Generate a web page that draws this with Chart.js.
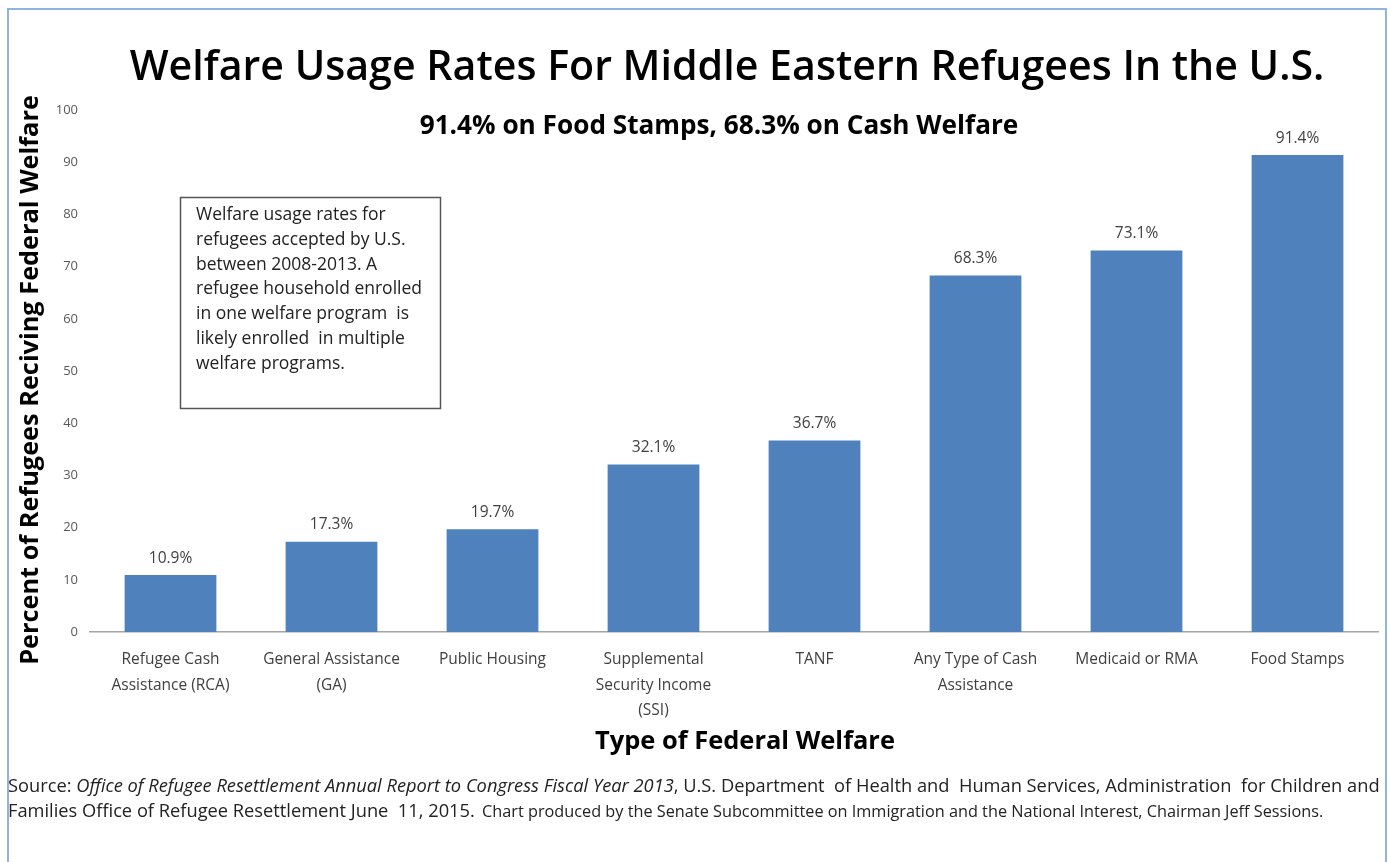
<!DOCTYPE html>
<html>
<head>
<meta charset="utf-8">
<script src="https://cdn.jsdelivr.net/npm/chart.js@4"></script>
<style>
  html, body { margin: 0; padding: 0; background: #fff; }
  #wrap { width: 1391px; height: 862px; position: relative; }
</style>
</head>
<body>
<div id="wrap"><canvas id="welfareChart" width="1391" height="862"></canvas></div>
<script>
// Data
const categories = [
  ["Refugee Cash", "Assistance (RCA)"],
  ["General Assistance", "(GA)"],
  ["Public Housing"],
  ["Supplemental", "Security Income", "(SSI)"],
  ["TANF"],
  ["Any Type of Cash", "Assistance"],
  ["Medicaid or RMA"],
  ["Food Stamps"],
];
const usageRates = [10.9, 17.3, 19.7, 32.1, 36.7, 68.3, 73.1, 91.4];
const yTicks = [0, 10, 20, 30, 40, 50, 60, 70, 80, 90, 100];

const titleText = "Welfare Usage Rates For Middle Eastern Refugees In the U.S.";
const subtitleText = "91.4% on Food Stamps, 68.3% on Cash Welfare";
const yTitleText = "Percent of Refugees Reciving Federal Welfare";
const xTitleText = "Type of Federal Welfare";
const noteLines = [
  "Welfare usage rates for",
  "refugees accepted by U.S.",
  "between 2008-2013. A",
  "refugee household enrolled",
  "in one welfare program  is",
  "likely enrolled  in multiple",
  "welfare programs.",
];
const sourceLine1 = [
  ["normal", "Source: "],
  ["italic", "Office of Refugee Resettlement Annual Report to Congress Fiscal Year 2013"],
  ["normal", ", U.S. Department  of Health and  Human Services, Administration  for Children and"],
];
const sourceLine2a = "Families Office of Refugee Resettlement June  11, 2015.";
const sourceLine2b = "Chart produced by the Senate Subcommittee on Immigration and the National Interest, Chairman Jeff Sessions.";

const FONT = "'Open Sans', Lato, sans-serif";

// co chữ để vừa một bề rộng cho trước
function fitSize(ctx, text, weight, width) {
  ctx.font = weight + " 20px " + FONT;
  return (20 * width) / ctx.measureText(text).width;
}

// Vẽ các chữ phụ: tiêu đề, ghi chú, nguồn
const decorPlugin = {
  id: "decor",
  afterDraw(chart) {
    const ctx = chart.ctx;
    ctx.save();

    // khung ngoài
    ctx.strokeStyle = "#8eb4e3";
    ctx.lineWidth = 2;
    ctx.strokeRect(8, 9, 1378, 860);

    // tiêu đề
    ctx.fillStyle = "#000";
    ctx.textAlign = "center";
    ctx.textBaseline = "middle";
    let s = fitSize(ctx, titleText, "600", 1195);
    ctx.font = "600 " + s + "px " + FONT;
    ctx.fillText(titleText, 727, 68);
    s = fitSize(ctx, subtitleText, "bold", 599);
    ctx.font = "bold " + s + "px " + FONT;
    ctx.fillText(subtitleText, 719, 127);

    // tiêu đề trục
    s = fitSize(ctx, xTitleText, "bold", 300);
    ctx.font = "bold " + s + "px " + FONT;
    ctx.fillText(xTitleText, 745, 742);
    ctx.save();
    ctx.translate(31, 380);
    ctx.rotate(-Math.PI / 2);
    s = fitSize(ctx, yTitleText, "bold", 570);
    ctx.font = "bold " + s + "px " + FONT;
    ctx.fillText(yTitleText, 0, 0);
    ctx.restore();

    // hộp ghi chú
    ctx.strokeStyle = "#555";
    ctx.lineWidth = 1.5;
    ctx.strokeRect(180.5, 197.5, 260, 211);
    ctx.fillStyle = "#222";
    ctx.textAlign = "left";
    s = fitSize(ctx, noteLines[3], "normal", 226);
    ctx.font = "normal " + s + "px " + FONT;
    noteLines.forEach((line, i) => {
      ctx.fillText(line, 196, 215 + i * 24.8);
    });

    // nguồn
    ctx.fillStyle = "#222";
    let total = 0;
    sourceLine1.forEach(([style, txt]) => {
      ctx.font = style + " 20px " + FONT;
      total += ctx.measureText(txt).width;
    });
    s = (20 * 1372) / total;
    let x = 8;
    sourceLine1.forEach(([style, txt]) => {
      ctx.font = style + " " + s + "px " + FONT;
      ctx.fillText(txt, x, 787);
      x += ctx.measureText(txt).width;
    });
    s = fitSize(ctx, sourceLine2a, "normal", 467);
    ctx.font = "normal " + s + "px " + FONT;
    ctx.fillText(sourceLine2a, 8, 812);
    s = fitSize(ctx, sourceLine2b, "normal", 842);
    ctx.font = "normal " + s + "px " + FONT;
    ctx.fillText(sourceLine2b, 482, 812);

    // nhãn giá trị trên cột
    const meta = chart.getDatasetMeta(0);
    ctx.textAlign = "center";
    ctx.textBaseline = "bottom";
    ctx.fillStyle = "#404040";
    ctx.font = "normal 15.5px " + FONT;
    meta.data.forEach((bar, i) => {
      ctx.fillText(usageRates[i].toFixed(1) + "%", bar.x, bar.y - 9);
    });

    ctx.restore();
  },
};

const ctx = document.getElementById("welfareChart").getContext("2d");
window.welfareChart = new Chart(ctx, {
  type: "bar",
  data: {
    labels: categories,
    datasets: [
      {
        data: usageRates,
        backgroundColor: "#4f81bd",
        categoryPercentage: 1,
        barPercentage: 0.57,
      },
    ],
  },
  options: {
    responsive: false,
    animation: false,
    layout: { padding: { top: 110, right: 13, left: 0, bottom: 0 } },
    plugins: {
      legend: { display: false },
      tooltip: { enabled: false },
      title: { display: false },
    },
    scales: {
      x: {
        grid: { display: false, drawTicks: false },
        border: { display: true, color: "#a6a6a6", width: 1.5 },
        ticks: {
          color: "#404040",
          font: { family: FONT, size: 15.5, lineHeight: 1.65 },
          padding: 15,
          maxRotation: 0,
          autoSkip: false,
        },
        afterFit(scale) {
          scale.height = 230;
        },
      },
      y: {
        min: 0,
        max: 100,
        afterBuildTicks(scale) {
          scale.ticks = yTicks.map((v) => ({ value: v }));
        },
        grid: { display: false, drawTicks: false },
        border: { display: false },
        ticks: {
          color: "#595959",
          font: { family: FONT, size: 13 },
          padding: 12,
        },
        afterFit(scale) {
          scale.width = 90;
        },
      },
    },
  },
  plugins: [decorPlugin],
});
</script>
</body>
</html>
